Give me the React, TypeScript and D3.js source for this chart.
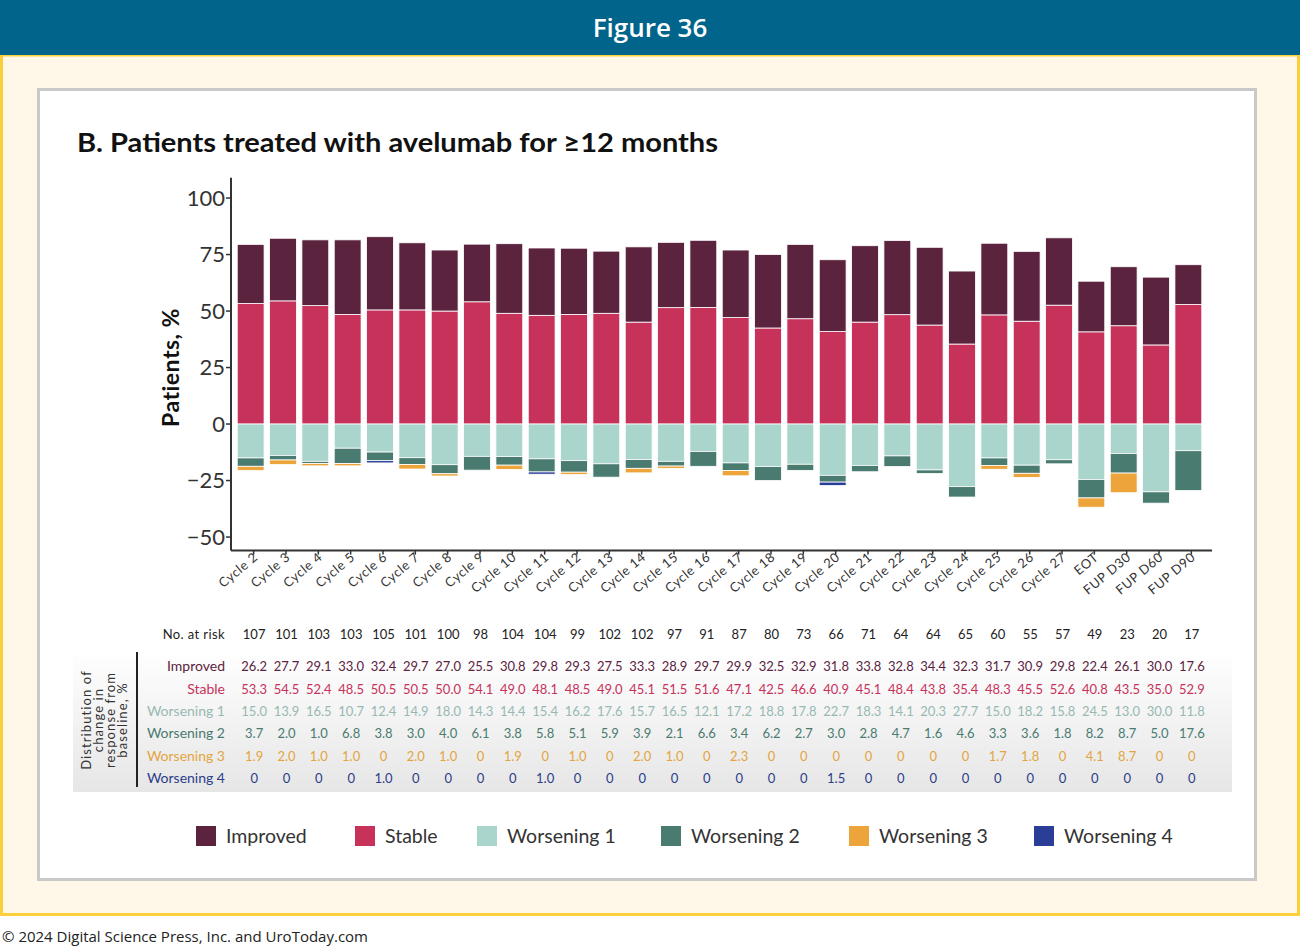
import React from "react";
import * as d3 from "d3";

// Response categories along the x axis
const categories = [
  "Cycle 2", "Cycle 3", "Cycle 4", "Cycle 5", "Cycle 6", "Cycle 7", "Cycle 8", "Cycle 9",
  "Cycle 10", "Cycle 11", "Cycle 12", "Cycle 13", "Cycle 14", "Cycle 15", "Cycle 16",
  "Cycle 17", "Cycle 18", "Cycle 19", "Cycle 20", "Cycle 21", "Cycle 22", "Cycle 23",
  "Cycle 24", "Cycle 25", "Cycle 26", "Cycle 27", "EOT", "FUP D30", "FUP D60", "FUP D90",
];

const atRisk = [107, 101, 103, 103, 105, 101, 100, 98, 104, 104, 99, 102, 102, 97, 91, 87, 80, 73, 66, 71, 64, 64, 65, 60, 55, 57, 49, 23, 20, 17];

const improved = [26.2, 27.7, 29.1, 33.0, 32.4, 29.7, 27.0, 25.5, 30.8, 29.8, 29.3, 27.5, 33.3, 28.9, 29.7, 29.9, 32.5, 32.9, 31.8, 33.8, 32.8, 34.4, 32.3, 31.7, 30.9, 29.8, 22.4, 26.1, 30.0, 17.6];
const stable = [53.3, 54.5, 52.4, 48.5, 50.5, 50.5, 50.0, 54.1, 49.0, 48.1, 48.5, 49.0, 45.1, 51.5, 51.6, 47.1, 42.5, 46.6, 40.9, 45.1, 48.4, 43.8, 35.4, 48.3, 45.5, 52.6, 40.8, 43.5, 35.0, 52.9];
const worsening1 = [15.0, 13.9, 16.5, 10.7, 12.4, 14.9, 18.0, 14.3, 14.4, 15.4, 16.2, 17.6, 15.7, 16.5, 12.1, 17.2, 18.8, 17.8, 22.7, 18.3, 14.1, 20.3, 27.7, 15.0, 18.2, 15.8, 24.5, 13.0, 30.0, 11.8];
const worsening2 = [3.7, 2.0, 1.0, 6.8, 3.8, 3.0, 4.0, 6.1, 3.8, 5.8, 5.1, 5.9, 3.9, 2.1, 6.6, 3.4, 6.2, 2.7, 3.0, 2.8, 4.7, 1.6, 4.6, 3.3, 3.6, 1.8, 8.2, 8.7, 5.0, 17.6];
const worsening3 = [1.9, 2.0, 1.0, 1.0, 0, 2.0, 1.0, 0, 1.9, 0, 1.0, 0, 2.0, 1.0, 0, 2.3, 0, 0, 0, 0, 0, 0, 0, 1.7, 1.8, 0, 4.1, 8.7, 0, 0];
const worsening4 = [0, 0, 0, 0, 1.0, 0, 0, 0, 0, 1.0, 0, 0, 0, 0, 0, 0, 0, 0, 1.5, 0, 0, 0, 0, 0, 0, 0, 0, 0, 0, 0];

const yTicks = [100, 75, 50, 25, 0, -25, -50];

const seriesKeys = ["stable", "improved", "w1", "w2", "w3", "w4"] as const;
const seriesLabels: Record<string, string> = {
  improved: "Improved",
  stable: "Stable",
  w1: "Worsening 1",
  w2: "Worsening 2",
  w3: "Worsening 3",
  w4: "Worsening 4",
};
const seriesColors: Record<string, string> = {
  improved: "#5b233e",
  stable: "#c7325b",
  w1: "#a9d5cc",
  w2: "#4a7b70",
  w3: "#eda43a",
  w4: "#2a3e98",
};
const tableColors: Record<string, string> = {
  improved: "#5b233e",
  stable: "#c7325b",
  w1: "#97b9b2",
  w2: "#4a7b70",
  w3: "#e3a53e",
  w4: "#2a3e8a",
};
const legendOrder = ["improved", "stable", "w1", "w2", "w3", "w4"];
const tableOrder = ["improved", "stable", "w1", "w2", "w3", "w4"];

const rows = categories.map((c, i) => ({
  category: c,
  improved: improved[i],
  stable: stable[i],
  w1: worsening1[i],
  w2: worsening2[i],
  w3: worsening3[i],
  w4: worsening4[i],
}));

const FONT = "Lato, 'Open Sans', sans-serif";

function fmt(v: number) {
  return v === 0 ? "0" : v.toFixed(1);
}

export default function App() {
  const x = d3
    .scaleBand<string>()
    .domain(categories)
    .range([234, 1205])
    .paddingInner(0.17)
    .paddingOuter(0.1);

  const y = d3.scaleLinear().domain([-56, 109]).range([550.6, 177.7]);

  const stack = d3
    .stack<any>()
    .keys(seriesKeys as unknown as string[])
    .value((d: any, k: string) => (k.startsWith("w") ? -d[k] : d[k]))
    .offset(d3.stackOffsetDiverging);
  const layers = stack(rows);

  const axisX = 231;
  const axisY = y(-56);

  const tableRowY: Record<string, number> = {
    improved: 671,
    stable: 694,
    w1: 716,
    w2: 738,
    w3: 761,
    w4: 783,
  };
  const tableValues: Record<string, number[]> = {
    improved,
    stable,
    w1: worsening1,
    w2: worsening2,
    w3: worsening3,
    w4: worsening4,
  };

  const legendX = [196, 355, 477, 661, 849, 1034];

  return (
    <svg
      width={1300}
      height={947}
      style={{ position: "absolute", left: 0, top: 0, display: "block" }}
      fontFamily={FONT}
    >
      <defs>
        <linearGradient id="tableShade" x1="0" y1="0" x2="0" y2="1">
          <stop offset="0%" stopColor="#ffffff" />
          <stop offset="100%" stopColor="#e6e6e6" />
        </linearGradient>
      </defs>

      {/* page frame */}
      <rect x={0} y={0} width={1300} height={947} fill="#ffffff" />
      <rect x={1.5} y={55} width={1297} height={859.5} fill="#fff8e9" stroke="#fbcf3c" strokeWidth={3} />
      <rect x={0} y={0} width={1300} height={55} fill="#00648b" />
      <text x={650} y={37} textAnchor="middle" fill="#ffffff" fontSize={26} fontFamily="'Open Sans', sans-serif" fontWeight={600}>
        Figure 36
      </text>

      {/* chart panel */}
      <rect x={38.5} y={89.5} width={1217} height={790} fill="#ffffff" stroke="#c9c9c9" strokeWidth={3} />

      <text x={77} y={152} fontSize={26} fontWeight={700} fill="#111" textLength={641} lengthAdjust="spacingAndGlyphs">
        B. Patients treated with avelumab for ≥12 months
      </text>

      {/* bars */}
      {layers.map((layer) => (
        <g key={layer.key} fill={seriesColors[layer.key]}>
          {layer.map((seg, i) => {
            const top = y(Math.max(seg[0], seg[1]));
            const bottom = y(Math.min(seg[0], seg[1]));
            if (bottom - top <= 0) return null;
            return (
              <rect
                key={i}
                x={x(categories[i])!}
                y={top}
                width={x.bandwidth()}
                height={bottom - top}
                stroke="#ffffff"
                strokeWidth={0.8}
              />
            );
          })}
        </g>
      ))}

      {/* y axis */}
      <line x1={axisX} x2={axisX} y1={y(109)} y2={axisY} stroke="#333" strokeWidth={2} />
      {yTicks.map((t) => (
        <g key={t}>
          <line x1={axisX - 5} x2={axisX} y1={y(t)} y2={y(t)} stroke="#333" strokeWidth={1.5} />
          <text x={axisX - 6} y={y(t)} dy="0.36em" textAnchor="end" fontSize={22} fill="#333">
            {t < 0 ? `\u2212${Math.abs(t)}` : t}
          </text>
        </g>
      ))}
      <text
        transform={`translate(179, ${y(25)}) rotate(-90)`}
        textAnchor="middle"
        fontSize={23}
        fontWeight={700}
        fill="#111"
        letterSpacing={0.5}
      >
        Patients, %
      </text>

      {/* x axis */}
      <line x1={axisX} x2={1212} y1={axisY} y2={axisY} stroke="#333" strokeWidth={2} />
      {categories.map((c) => {
        const cx = x(c)! + x.bandwidth() / 2 + 3;
        return (
          <g key={c}>
            <line x1={cx} x2={cx} y1={axisY} y2={axisY + 4} stroke="#333" strokeWidth={1.5} />
            <text
              transform={`translate(${cx + 5}, ${axisY + 8}) rotate(-40)`}
              textAnchor="end"
              fontSize={13}
              letterSpacing={0.6}
              fill="#333"
            >
              {c}
            </text>
          </g>
        );
      })}

      {/* number at risk */}
      <text x={225} y={639} textAnchor="end" fontSize={13} letterSpacing={0.4} fill="#222">
        No. at risk
      </text>
      {categories.map((c, i) => (
        <text key={c} x={x(c)! + x.bandwidth() / 2 + 3.5} y={639} textAnchor="middle" fontSize={13} fill="#222">
          {atRisk[i]}
        </text>
      ))}

      {/* distribution table */}
      <rect x={73} y={650} width={1159} height={142} fill="url(#tableShade)" />
      <line x1={137} x2={137} y1={652} y2={787} stroke="#222" strokeWidth={2} />
      {["Distribution of", "change in", "response from", "baseline, %"].map((line, i) => (
        <text
          key={line}
          transform={`translate(${91 + i * 12}, 720) rotate(-90)`}
          textAnchor="middle"
          fontSize={13}
          letterSpacing={1.1}
          fill="#333"
        >
          {line}
        </text>
      ))}
      {tableOrder.map((k) => (
        <g key={k} fill={tableColors[k]}>
          <text x={225} y={tableRowY[k]} textAnchor="end" fontSize={14}>
            {seriesLabels[k]}
          </text>
          {categories.map((c, i) => (
            <text
              key={c}
              x={x(c)! + x.bandwidth() / 2 + 3.5}
              y={tableRowY[k]}
              textAnchor="middle"
              fontSize={13}
            >
              {fmt(tableValues[k][i])}
            </text>
          ))}
        </g>
      ))}

      {/* legend */}
      {legendOrder.map((k, i) => (
        <g key={k} transform={`translate(${legendX[i]}, 826)`}>
          <rect width={20} height={20} fill={seriesColors[k]} />
          <text x={30} y={17} fontSize={19.5} fill="#333">
            {seriesLabels[k]}
          </text>
        </g>
      ))}

      {/* footer */}
      <text x={2} y={942} fontSize={15} fill="#222" fontFamily="'Open Sans', sans-serif">
        © 2024 Digital Science Press, Inc. and UroToday.com
      </text>
    </svg>
  );
}
